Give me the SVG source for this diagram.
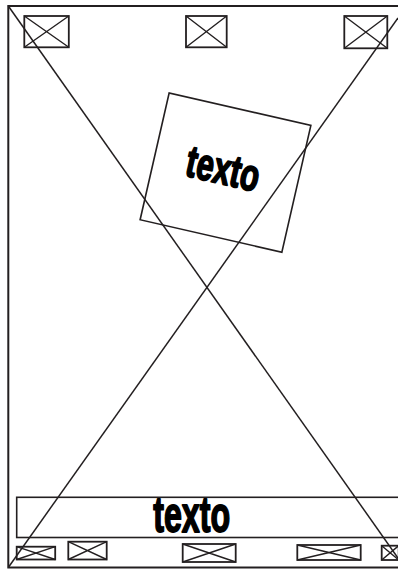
<svg xmlns="http://www.w3.org/2000/svg" width="398" height="569" viewBox="0 0 398 569">
<style>
.frame{fill:none;stroke:#231f20;stroke-width:2}
.box{fill:none;stroke:#231f20;stroke-width:1.8}
.xl{fill:none;stroke:#231f20;stroke-width:1.4}
.diag{fill:none;stroke:#231f20;stroke-width:1.5}
.tb{fill:none;stroke:#231f20;stroke-width:1.6}
.txt{font-family:"Liberation Sans",Arial,sans-serif;font-weight:bold;fill:#000;stroke:#000;stroke-width:1.8;stroke-linejoin:round;text-anchor:middle}
</style>
<rect class="frame" x="8.3" y="6" width="400" height="561.5"/>
<g id="box-top-1"><rect class="box" x="24.3" y="16" width="44.5" height="31.3"/><path class="xl" d="M24.3 16L68.8 47.3M24.3 47.3L68.8 16"/></g>
<g id="box-top-2"><rect class="box" x="186" y="16" width="40.7" height="31.3"/><path class="xl" d="M186 16L226.7 47.3M186 47.3L226.7 16"/></g>
<g id="box-top-3"><rect class="box" x="344.3" y="16" width="43" height="32.3"/><path class="xl" d="M344.3 16L387.3 48.3M344.3 48.3L387.3 16"/></g>
<g id="rotated-node" transform="translate(225.5 172.6) rotate(12.9)">
<rect class="tb" x="-72.7" y="-65" width="145.4" height="130"/>
<text class="txt" x="-3" y="12" font-size="45" textLength="74" lengthAdjust="spacingAndGlyphs">texto</text>
</g>
<g id="bottom-text-node">
<rect class="tb" x="16.7" y="497.3" width="395" height="40.2"/>
<text class="txt" x="191.7" y="532" font-size="50" textLength="77" lengthAdjust="spacingAndGlyphs">texto</text>
</g>
<g id="box-bot-1"><rect class="box" x="16.7" y="546.7" width="38.5" height="12.8"/><path class="xl" d="M16.7 546.7L55.2 559.5M16.7 559.5L55.2 546.7"/></g>
<g id="box-bot-2"><rect class="box" x="68.3" y="541.7" width="38.4" height="17.8"/><path class="xl" d="M68.3 541.7L106.7 559.5M68.3 559.5L106.7 541.7"/></g>
<g id="box-bot-3"><rect class="box" x="182.7" y="544" width="53" height="18"/><path class="xl" d="M182.7 544L235.7 562M182.7 562L235.7 544"/></g>
<g id="box-bot-4"><rect class="box" x="297.3" y="545" width="63.4" height="15"/><path class="xl" d="M297.3 545L360.7 560M297.3 560L360.7 545"/></g>
<g id="box-bot-5"><rect class="box" x="381.7" y="545.7" width="17" height="14.3"/><path class="xl" d="M381.7 545.7L398.7 560M381.7 560L398.7 545.7"/></g>
<g id="connectors">
<path class="diag" d="M8.3 6L398 558"/>
<path class="diag" d="M8.3 567.5L398 18"/>
</g>
</svg>
